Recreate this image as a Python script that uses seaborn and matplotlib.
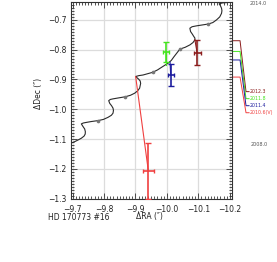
import numpy as np
import pandas as pd
import seaborn as sns
import matplotlib.pyplot as plt
from matplotlib.ticker import MultipleLocator, FuncFormatter

# predicted track of the background star, 2008.0 -> 2014.0
track_ra = [-9.694, -9.706, -9.7175, -9.728, -9.7365, -9.7402, -9.7406, -9.7385, -9.7333,
            -9.7279, -9.7340, -9.7438, -9.760, -9.781, -9.798,
            -9.8127, -9.8235, -9.8286, -9.8300, -9.8286, -9.8240, -9.8181, -9.8149, -9.8200,
            -9.8286, -9.845, -9.8676, -9.8840, -9.8975,
            -9.9070, -9.9133, -9.9165, -9.9150, -9.9102, -9.9006, -9.9110, -9.9238, -9.9546,
            -9.9700, -9.9832, -10.0041, -10.0140,
            -10.0222, -10.0413, -10.058, -10.073, -10.083, -10.0889, -10.0890, -10.0857,
            -10.0810, -10.0752, -10.073, -10.080,
            -10.0943, -10.1311, -10.146, -10.1578, -10.1680, -10.1737, -10.1750, -10.1737,
            -10.1700, -10.166, -10.1770, -10.1895, -10.2095]
track_dec = [-1.114, -1.109, -1.103, -1.097, -1.090, -1.083, -1.075, -1.066, -1.058,
             -1.049, -1.046, -1.044, -1.041, -1.038, -1.034,
             -1.027, -1.020, -1.013, -1.004, -0.996, -0.988, -0.980, -0.971, -0.967,
             -0.965, -0.962, -0.958, -0.953, -0.946,
             -0.938, -0.929, -0.913, -0.905, -0.899, -0.890, -0.887, -0.885, -0.876,
             -0.868, -0.859, -0.845, -0.836,
             -0.824, -0.798, -0.792, -0.784, -0.776, -0.767, -0.761, -0.756,
             -0.748, -0.739, -0.728, -0.723,
             -0.720, -0.714, -0.709, -0.700, -0.690, -0.678, -0.669, -0.661,
             -0.652, -0.646, -0.643, -0.642, -0.639]

# yearly marks on the track
year_ra = [-9.781, -9.8676, -9.9546, -10.0413, -10.1311]
year_dec = [-1.038, -0.958, -0.876, -0.798, -0.714]

# measured positions
epochs = [2012.3, 2011.8, 2011.4, 2010.6]
labels = ['2012.3', '2011.8', '2011.4', '2010.6(V)']
obs_ra = [-10.096, -9.997, -10.012, -9.941]
obs_dec = [-0.810, -0.8085, -0.885, -1.207]
err_ra = [0.011, 0.0105, 0.010, 0.018]
err_dec = [0.041, 0.033, 0.036, 0.093]
# where the track sits at each epoch
model_ra = [-10.089, -9.997, -10.010, -9.9006]
model_dec = [-0.767, -0.852, -0.842, -0.890]
colors = ['#8b1c1c', '#44e41e', '#1c1c9e', '#f04040']

time_top, time_bottom = 2014.11, 2004.9

fig = plt.figure(figsize=(2.77, 2.62), dpi=100)
ax = fig.add_axes([71 / 277, 1 - 199 / 262, 161 / 277, 197 / 262])

sns.lineplot(x=track_ra, y=track_dec, sort=False, estimator=None, color='#2a2a2a', lw=0.8, ax=ax)
sns.scatterplot(x=year_ra, y=year_dec, color='#777777', s=7, linewidth=0, ax=ax, zorder=3)

for i in range(len(epochs)):
    ax.plot([model_ra[i], obs_ra[i]], [model_dec[i], obs_dec[i]], color=colors[i], lw=0.8, zorder=4)
    ax.errorbar(obs_ra[i], obs_dec[i], yerr=err_dec[i], fmt='none', ecolor=colors[i],
                elinewidth=1.2, capsize=2.5, capthick=1.0, zorder=5)
    ax.errorbar(obs_ra[i], obs_dec[i], xerr=err_ra[i], fmt='none', ecolor=colors[i],
                elinewidth=1.2, capsize=1.5, capthick=1.0, zorder=5)

    # time bar on the right
    ty = (epochs[i] - time_bottom) / (time_top - time_bottom)
    ly = 0.545 - i * 0.0357
    ax.plot([1.0, 1.05, 1.087, 1.106], [ty, ty, ly, ly], color=colors[i], lw=0.7,
            transform=ax.transAxes, clip_on=False)
    ax.text(1.112, ly, labels[i], color=colors[i], fontsize=3.4, va='center', ha='left',
            transform=ax.transAxes)

ax.set_xlim(-9.695, -10.207)
ax.set_ylim(-1.301, -0.640)
ax.xaxis.set_major_locator(MultipleLocator(0.1))
ax.xaxis.set_minor_locator(MultipleLocator(0.01))
ax.yaxis.set_major_locator(MultipleLocator(0.1))
ax.yaxis.set_minor_locator(MultipleLocator(0.01))
fmt = FuncFormatter(lambda v, p: ('%.1f' % v).replace('-', '\u2212'))
ax.xaxis.set_major_formatter(fmt)
ax.yaxis.set_major_formatter(fmt)
ax.tick_params(which='both', direction='in', top=True, right=True, width=0.6,
               colors='#333333', labelsize=5.5, labelcolor='#222222')
ax.tick_params(which='major', length=4)
ax.tick_params(which='minor', length=2)
ax.tick_params(axis='x', pad=4)
ax.tick_params(axis='y', pad=3)
ax.grid(True, which='major', color='#dcdcdc', lw=0.9)
ax.set_axisbelow(True)
for s in ax.spines.values():
    s.set_color('#333333')
    s.set_linewidth(0.8)

ax.set_xlabel('')
ax.set_ylabel('\u0394Dec (\u2033)', fontsize=5.5, color='#222222')
ax.yaxis.set_label_coords(-0.175, 0.538)
ax.text(0.49, -0.091, '\u0394RA (\u2033)', fontsize=5.5, color='#222222', ha='center', va='center',
        transform=ax.transAxes)
fig.text(48 / 277, 1 - 217 / 262, 'HD 170773 #16', fontsize=5.5, color='#222222', ha='left', va='center')

fig.text(258 / 277, 1 - 3.5 / 262, '2014.0', fontsize=3.5, color='#555555', ha='center', va='center')
fig.text(259 / 277, 1 - 144.3 / 262, '2008.0', fontsize=3.5, color='#555555', ha='center', va='center')

fig.savefig('out.png', dpi=100)
